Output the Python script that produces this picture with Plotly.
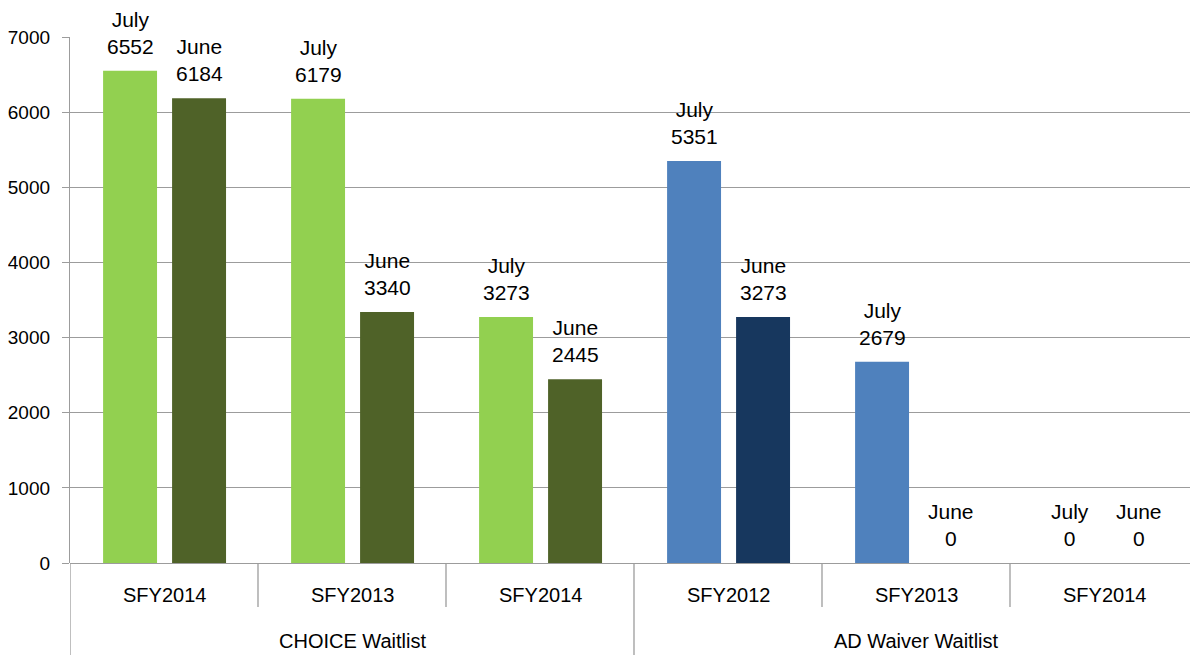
import plotly.graph_objects as go

groups = ["CHOICE Waitlist", "CHOICE Waitlist", "CHOICE Waitlist",
          "AD Waiver Waitlist", "AD Waiver Waitlist", "AD Waiver Waitlist"]
years = ["SFY2014", "SFY2013", "SFY2014", "SFY2012", "SFY2013", "SFY2014"]
july = [6552, 6179, 3273, 5351, 2679, 0]
june = [6184, 3340, 2445, 3273, 0, 0]
july_colors = ["#92D050", "#92D050", "#92D050", "#4F81BD", "#4F81BD", "#4F81BD"]
june_colors = ["#4F6228", "#4F6228", "#4F6228", "#17375E", "#17375E", "#17375E"]
y_ticks = [0, 1000, 2000, 3000, 4000, 5000, 6000, 7000]

xs = list(range(len(years)))
FONT = "Liberation Sans, Arial, sans-serif"
BAR_W = 0.287
OFF_JULY = -0.324
OFF_JUNE = 0.043

fig = go.Figure()
fig.add_trace(go.Bar(
    x=xs, y=july, width=BAR_W, offset=OFF_JULY,
    marker=dict(color=july_colors, line=dict(width=0)),
    cliponaxis=False, showlegend=False, hoverinfo="y",
))
fig.add_trace(go.Bar(
    x=xs, y=june, width=BAR_W, offset=OFF_JUNE,
    marker=dict(color=june_colors, line=dict(width=0)),
    cliponaxis=False, showlegend=False, hoverinfo="y",
))

H = 526.0
def py(px):
    return -px / H

shapes = []
line_col = "#9C9C9C"
for b in [0.5, 1.5, 3.5, 4.5]:
    shapes.append(dict(type="line", xref="x", yref="paper", x0=b, x1=b,
                       y0=0, y1=py(44), line=dict(color=line_col, width=1.3)))
for b in [-0.5, 2.5]:
    shapes.append(dict(type="line", xref="x", yref="paper", x0=b, x1=b,
                       y0=0, y1=py(92), line=dict(color=line_col, width=1.3)))

annotations = []
for i in xs:
    for name, vals, off in [("July", july, OFF_JULY), ("June", june, OFF_JUNE)]:
        annotations.append(dict(
            x=i + off + BAR_W / 2, y=vals[i], xref="x", yref="y",
            text=f"{name}<br>{vals[i]}", showarrow=False,
            yanchor="bottom", yshift=11,
            font=dict(family=FONT, size=21, color="#000000")))
for i, yr in enumerate(years):
    annotations.append(dict(x=i, y=py(32), xref="x", yref="paper", text=yr,
                            showarrow=False, yanchor="middle",
                            font=dict(family=FONT, size=20, color="#000000")))
for label, center in [("CHOICE Waitlist", 1.0), ("AD Waiver Waitlist", 4.0)]:
    annotations.append(dict(x=center, y=py(78), xref="x", yref="paper", text=label,
                            showarrow=False, yanchor="middle",
                            font=dict(family=FONT, size=20, color="#000000")))

fig.update_layout(
    width=1198, height=660,
    margin=dict(l=62, r=8, t=29, b=105, autoexpand=False),
    plot_bgcolor="white", paper_bgcolor="white",
    barmode="overlay",
    shapes=shapes, annotations=annotations,
    xaxis=dict(range=[-0.5, 5.5], showticklabels=False, showgrid=False,
               zeroline=False, showline=False, ticks="", automargin=False),
    yaxis=dict(range=[0, 7000], tickvals=y_ticks, showgrid=True,
               gridcolor=line_col, gridwidth=1.3, zeroline=True,
               zerolinecolor=line_col, zerolinewidth=1.3,
               showline=True, linecolor=line_col, linewidth=1.3,
               ticks="outside", ticklen=7, tickcolor=line_col,
               tickfont=dict(family=FONT, size=19, color="#000000"),
               ticklabelstandoff=8, automargin=False),
)

fig.write_html("out.html")
